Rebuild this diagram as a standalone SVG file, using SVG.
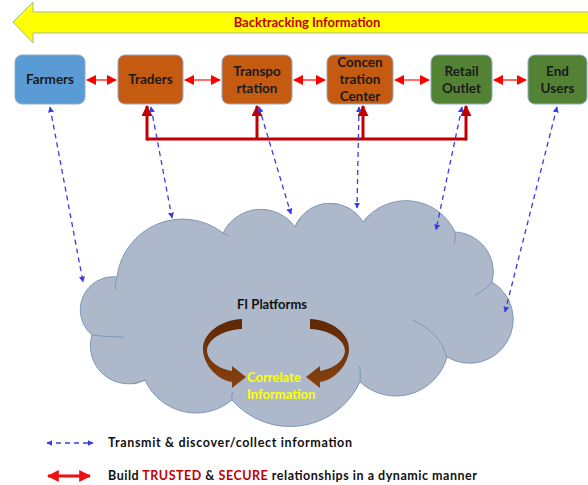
<svg xmlns="http://www.w3.org/2000/svg" width="588" height="485" viewBox="0 0 588 485">
  <style>
    .lbl { font-family: Lato, "Liberation Sans", sans-serif; font-weight: bold; }
    .node text { font-size: 13.5px; fill: #1a1a1a; text-anchor: middle; }
    .box { stroke: #8faacc; stroke-width: 1; }
    .blue { fill: #5b9bd5; }
    .orange { fill: #c55a11; }
    .green { fill: #548235; }
    .rel { stroke: #ff4040; stroke-width: 1.6; fill: none; }
    .tree { stroke: #c00000; stroke-width: 3; fill: none; }
    .info { stroke: #3a3ae8; stroke-width: 1.3; stroke-dasharray: 5 4; fill: none; }
  </style>
  <defs>
    <marker id="redHead" viewBox="0 0 10 10" refX="9" refY="5" markerWidth="10" markerHeight="10" markerUnits="userSpaceOnUse" orient="auto-start-reverse">
      <path d="M0,0 L10,5 L0,10 Z" fill="#ff0000"/>
    </marker>
    <marker id="treeHead" viewBox="0 0 10 10" refX="9" refY="5" markerWidth="11" markerHeight="11" markerUnits="userSpaceOnUse" orient="auto">
      <path d="M0,0 L10,5 L0,10 Z" fill="#c00000"/>
    </marker>
    <marker id="blueHead" viewBox="0 0 10 10" refX="9" refY="5" markerWidth="6" markerHeight="6" markerUnits="userSpaceOnUse" orient="auto-start-reverse">
      <path d="M0,0 L10,5 L0,10 Z" fill="#3a3ae8"/>
    </marker>
    <marker id="legendRed" viewBox="0 0 10 10" refX="9" refY="5" markerWidth="12" markerHeight="12" markerUnits="userSpaceOnUse" orient="auto-start-reverse">
      <path d="M0,0 L10,5 L0,10 Z" fill="#ee1111"/>
    </marker>
    <linearGradient id="brown" x1="0" y1="0" x2="0" y2="1">
      <stop offset="0" stop-color="#5e2706"/>
      <stop offset="1" stop-color="#8a4210"/>
    </linearGradient>
  </defs>

  <!-- backtracking banner arrow -->
  <g id="backtracking">
    <path d="M13,22 L33,2 L33,12 L590,12 L590,33 L33,33 L33,43 Z" fill="#ffff00" stroke="#a7b8a0" stroke-width="1"/>
    <text class="lbl" x="307" y="27" font-size="13" fill="#c00000" text-anchor="middle">Backtracking  Information</text>
  </g>

  <!-- FI platform cloud -->
  <g id="cloud">
    <path d="M117,277 A66,66 0 0 1 223,233 A42,42 0 0 1 295,227 A38,38 0 0 1 363,222 A54,54 0 0 1 455,232 A40,40 0 0 1 492,282 A40,40 0 0 1 447,357 A53,53 0 0 1 360,382 A77,77 0 0 1 232,400 A56,56 0 0 1 145,380 A38,38 0 0 1 92,335 A33,33 0 0 1 117,277 Z" fill="#adb9ca" stroke="#7d98b8" stroke-width="1"/>
    <g fill="none" stroke="#7d98b8" stroke-width="1">
      <path d="M117,277 Q114,284 116,290"/>
      <path d="M92,335 Q106,337 123,337"/>
      <path d="M145,380 Q139,383 133,384"/>
      <path d="M232,400 Q231,394 233,392"/>
      <path d="M360,382 Q361,370 359,366"/>
      <path d="M447,357 Q440,332 413,320"/>
      <path d="M492,282 Q486,290 475,295"/>
      <path d="M455,232 Q456,238 454,244"/>
      <path d="M363,222 Q366,218 370,215"/>
      <path d="M295,227 Q297,222 301,218"/>
      <path d="M223,233 Q230,236 228,236"/>
    </g>
    <text class="lbl" x="272" y="309" font-size="13" fill="#111" text-anchor="middle">FI Platforms</text>
    <path d="M242,319 C220,320 202,334 203,350 C204,366 218,380 232,382 L232,388 L246,377 L232,366 L232,371 C220,369 208,362 207,351 C207,340 222,330 242,329 Z" fill="url(#brown)"/>
    <path d="M310,319 C332,320 350,334 349,350 C348,366 334,380 320,382 L320,388 L306,377 L320,366 L320,371 C332,369 344,362 345,351 C345,340 330,330 310,329 Z" fill="url(#brown)"/>
    <text class="lbl" x="247" y="382" font-size="13" fill="#ffff00">Correlate</text>
    <text class="lbl" x="247" y="399" font-size="13" fill="#ffff00">Information</text>
  </g>

  <!-- supply chain nodes -->
  <g id="farmers" class="node lbl">
    <rect class="box blue" x="15" y="55" width="70" height="49" rx="7"/>
    <text x="50" y="84">Farmers</text>
  </g>
  <g id="traders" class="node lbl">
    <rect class="box orange" x="118" y="55" width="65" height="49" rx="7"/>
    <text x="150.5" y="84">Traders</text>
  </g>
  <g id="transportation" class="node lbl">
    <rect class="box orange" x="222" y="55" width="70" height="49" rx="7"/>
    <text x="257" y="76">Transpo</text>
    <text x="257" y="93">rtation</text>
  </g>
  <g id="concentration" class="node lbl">
    <rect class="box orange" x="327" y="55" width="66" height="49" rx="7"/>
    <text x="360" y="67">Concen</text>
    <text x="360" y="84">tration</text>
    <text x="360" y="101">Center</text>
  </g>
  <g id="retail" class="node lbl">
    <rect class="box green" x="431" y="55" width="61" height="49" rx="7"/>
    <text x="461.5" y="76">Retail</text>
    <text x="461.5" y="93">Outlet</text>
  </g>
  <g id="endusers" class="node lbl">
    <rect class="box green" x="528" y="55" width="59" height="49" rx="7"/>
    <text x="557.5" y="76">End</text>
    <text x="557.5" y="93">Users</text>
  </g>

  <!-- connectors -->
  <g id="connectors">
    <!-- peer relationships -->
    <path class="rel" d="M87,80 H116" marker-start="url(#redHead)" marker-end="url(#redHead)"/>
    <path class="rel" d="M185,80 H220" marker-start="url(#redHead)" marker-end="url(#redHead)"/>
    <path class="rel" d="M294,80 H325" marker-start="url(#redHead)" marker-end="url(#redHead)"/>
    <path class="rel" d="M395,80 H429" marker-start="url(#redHead)" marker-end="url(#redHead)"/>
    <path class="rel" d="M494,80 H526" marker-start="url(#redHead)" marker-end="url(#redHead)"/>
    <!-- trust bus -->
    <path class="tree" d="M147,139 H466"/>
    <path class="tree" d="M147,140.5 V106" marker-end="url(#treeHead)"/>
    <path class="tree" d="M257,139 V106" marker-end="url(#treeHead)"/>
    <path class="tree" d="M363,139 V106" marker-end="url(#treeHead)"/>
    <path class="tree" d="M466,140.5 V106" marker-end="url(#treeHead)"/>
    <!-- information exchange with the cloud -->
    <path class="info" d="M50,107 L83,282" marker-start="url(#blueHead)" marker-end="url(#blueHead)"/>
    <path class="info" d="M151,107 L172,218" marker-start="url(#blueHead)" marker-end="url(#blueHead)"/>
    <path class="info" d="M259,107 L291,214" marker-start="url(#blueHead)" marker-end="url(#blueHead)"/>
    <path class="info" d="M359,107 L357,208" marker-start="url(#blueHead)" marker-end="url(#blueHead)"/>
    <path class="info" d="M462,107 L436,230" marker-start="url(#blueHead)" marker-end="url(#blueHead)"/>
    <path class="info" d="M557,107 L505,312" marker-start="url(#blueHead)" marker-end="url(#blueHead)"/>
  </g>

  <!-- legend -->
  <g id="legend">
    <path class="info" d="M47,443 H93" marker-start="url(#blueHead)" marker-end="url(#blueHead)"/>
    <text class="lbl" x="108" y="447" font-size="12.5" fill="#111" textLength="244" lengthAdjust="spacing">Transmit &amp; discover/collect information</text>
    <path d="M48,476 H90" stroke="#ee1111" stroke-width="3" fill="none" marker-start="url(#legendRed)" marker-end="url(#legendRed)"/>
    <text class="lbl" x="108" y="480" font-size="12.5" fill="#111" textLength="369" lengthAdjust="spacing">Build <tspan fill="#c00000">TRUSTED</tspan> &amp; <tspan fill="#c00000">SECURE</tspan> relationships in a dynamic manner</text>
  </g>
</svg>
